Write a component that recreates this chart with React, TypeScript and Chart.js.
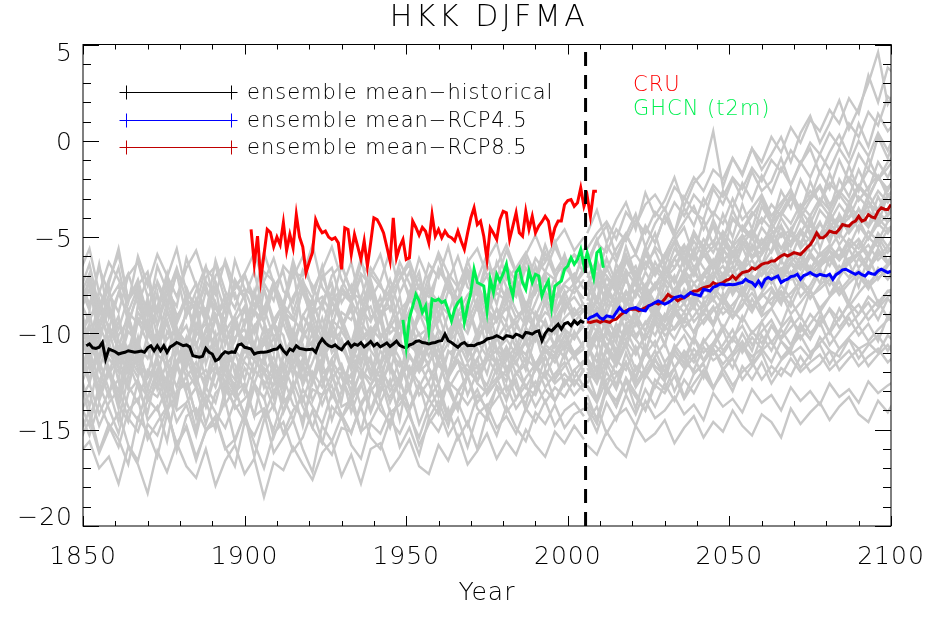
import React, { useEffect, useRef } from 'react';
import { Chart, registerables } from 'chart.js';

Chart.register(...registerables);

const FONT_FAMILY = '"DejaVu Sans", "Liberation Sans", sans-serif';
const FONT_WEIGHT = 200;

// ---------- axes ----------
const xTickValues = [1850, 1900, 1950, 2000, 2050, 2100];
const yTickValues = [5, 0, -5, -10, -15, -20];
const xMinorStep = 10;
const yMinorStep = 1;
const splitYear = 2005.5;

// ---------- ensemble means / observations (yearly) ----------
const historicalStartYear = 1851;
const historicalMean = [
  -10.64, -10.55, -10.75, -10.78, -10.72, -10.47, -11.33, -10.81, -10.88, -10.95,
  -11.07, -11.02, -10.98, -10.9, -10.94, -10.98, -10.95, -10.92, -10.98, -10.75,
  -10.64, -10.9, -10.64, -10.9, -10.64, -10.98, -10.7, -10.6, -10.47, -10.55,
  -10.64, -10.6, -10.7, -11.16, -11.2, -11.24, -11.19, -10.78, -10.98, -11.07,
  -11.42, -11.33, -11.1, -10.95, -11.02, -10.96, -10.98, -10.6, -10.55, -10.72,
  -10.76, -10.81, -11.07, -11.0, -10.98, -10.98, -10.95, -10.9, -10.83, -10.81,
  -10.64, -10.9, -11.07, -10.81, -10.9, -10.64, -10.78, -10.81, -10.85, -10.83,
  -10.81, -10.98, -10.55, -10.29, -10.5, -10.64, -10.7, -10.6, -10.75, -10.85,
  -10.6, -10.45, -10.7, -10.55, -10.62, -10.48, -10.7, -10.58, -10.42, -10.65,
  -10.52, -10.7, -10.6, -10.5, -10.68, -10.55, -10.4, -10.62, -10.7, -10.75,
  -10.6, -10.55, -10.42, -10.38, -10.47, -10.5, -10.55, -10.5, -10.47, -10.4,
  -10.38, -10.04, -10.38, -10.47, -10.6, -10.72, -10.55, -10.47, -10.64, -10.62,
  -10.64, -10.55, -10.5, -10.43, -10.29, -10.25, -10.21, -10.12, -10.2, -10.29,
  -10.12, -10.15, -10.21, -10.04, -10.1, -10.21, -9.95, -9.98, -10.04, -9.92,
  -9.87, -10.38, -10.0, -9.78, -9.87, -9.7, -9.52, -9.78, -9.5, -9.43,
  -9.6, -9.35, -9.52, -9.35, -9.45,
];

const cruStartYear = 1902;
const cruObs = [
  -4.6, -6.4, -4.95, -7.2, -5.9, -4.6, -4.76, -5.5, -5.0, -5.4,
  -4.25, -5.7, -4.86, -5.55, -3.83, -5.0, -5.5, -6.85, -6.3, -5.8,
  -4.09, -4.5, -4.78, -4.69, -5.0, -5.12, -5.03, -5.3, -6.67, -4.52,
  -4.6, -5.9, -4.86, -5.5, -6.16, -5.2, -6.5, -5.3, -4.0, -4.09,
  -4.4, -4.78, -5.5, -6.24, -4.0, -6.07, -5.5, -5.12, -6.16, -6.07,
  -4.17, -4.5, -4.9, -4.5, -4.7, -5.3, -3.83, -4.95, -4.6, -5.03,
  -4.69, -4.95, -5.03, -5.2, -4.69, -5.2, -5.64, -4.78, -4.0, -3.48,
  -4.35, -4.17, -4.95, -6.16, -4.52, -4.8, -5.12, -4.09, -3.66, -3.74,
  -5.12, -4.43, -3.74, -4.78, -4.95, -3.66, -4.6, -3.92, -4.78, -4.43,
  -4.2, -3.92, -4.17, -5.2, -4.52, -4.17, -4.17, -3.31, -3.1, -3.05,
  -3.4, -3.22, -2.45, -3.4, -2.88, -3.92, -2.62, -2.62,
];

const ghcnStartYear = 1949;
const ghcnObs = [
  -9.3, -10.7, -9.2, -8.6, -7.97, -8.3, -8.91, -8.57, -9.87, -8.22,
  -8.31, -8.22, -8.4, -8.31, -8.8, -9.35, -8.74, -8.4, -8.22, -9.43,
  -8.6, -7.88, -6.67, -7.36, -7.45, -7.54, -8.83, -7.19, -7.88, -6.93,
  -7.28, -6.9, -6.41, -7.45, -8.05, -6.84, -6.59, -7.36, -7.71, -6.76,
  -7.36, -6.93, -7.02, -8.05, -7.6, -7.28, -8.66, -7.54, -7.4, -7.28,
  -6.67, -6.5, -6.07, -6.41, -6.16, -5.64, -6.5, -5.81, -6.41, -7.1,
  -5.81, -5.64, -6.59,
];

const rcpStartYear = 2006;
const rcp45Mean = [
  -9.3, -9.17, -9.1, -9.0, -9.2, -9.26, -9.09, -9.12, -9.17, -8.91,
  -8.66, -8.85, -8.91, -8.74, -8.7, -8.66, -8.74, -8.8, -8.83, -8.57,
  -8.5, -8.4, -8.31, -8.4, -8.48, -8.4, -8.3, -8.14, -8.1, -8.05,
  -8.14, -8.0, -7.88, -7.97, -8.0, -8.05, -7.71, -7.75, -7.8, -7.6,
  -7.54, -7.45, -7.45, -7.48, -7.45, -7.47, -7.45, -7.4, -7.36, -7.19,
  -7.3, -7.36, -7.54, -7.28, -7.54, -7.2, -7.1, -7.19, -7.1, -7.02,
  -7.36, -7.25, -7.19, -7.05, -7.02, -6.93, -7.19, -7.0, -6.93, -6.84,
  -6.95, -7.02, -6.93, -6.98, -7.02, -6.93, -7.19, -6.95, -6.84, -6.7,
  -6.67, -6.76, -6.85, -6.93, -6.84, -6.95, -7.02, -6.84, -6.9, -6.93,
  -6.76, -6.67, -6.75, -6.84, -6.76,
];
const rcp85Mean = [
  -9.4, -9.43, -9.38, -9.35, -9.43, -9.35, -9.38, -9.43, -9.3, -9.26,
  -9.09, -8.95, -8.83, -8.74, -8.74, -8.74, -8.83, -8.75, -8.66, -8.57,
  -8.5, -8.4, -8.48, -8.4, -8.22, -7.97, -8.1, -8.14, -8.31, -8.2,
  -8.14, -8.05, -7.9, -7.8, -7.8, -7.7, -7.62, -7.58, -7.54, -7.36,
  -7.45, -7.42, -7.36, -7.25, -7.19, -7.02, -7.19, -7.0, -6.84, -6.8,
  -6.76, -6.59, -6.67, -6.55, -6.41, -6.35, -6.33, -6.24, -6.24, -6.1,
  -5.98, -5.9, -5.98, -5.9, -5.81, -5.85, -5.9, -5.73, -5.55, -5.4,
  -5.12, -4.78, -5.03, -5.03, -4.9, -4.69, -4.75, -4.78, -4.6, -4.35,
  -4.4, -4.43, -4.25, -4.17, -3.92, -4.17, -4.1, -3.83, -3.95, -4.0,
  -3.66, -3.48, -3.55, -3.57, -3.31,
];

// ---------- individual model runs (grey), sampled every 3 years ----------
const histRunStartYear = 1849;
const histRunEndYear = 2005;
const runStepYears = 3;
const histRuns: number[][] = [
  [-8.1,-6.9,-9.0,-7.4,-5.6,-8.3,-7.2,-9.1,-6.5,-7.8,-8.6,-6.1,-7.5,-9.3,-7.0,-6.4,-8.2,-7.7,-9.0,-6.8,-7.3,-8.5,-6.2,-7.9,-8.8,-7.1,-6.6,-8.4,-7.5,-9.2,-6.9,-7.6,-8.1,-6.3,-7.4,-8.7,-7.0,-6.0,-7.8,-8.3,-6.7,-7.2,-5.9,-7.7,-6.5,-8.0,-6.2,-7.1,-5.4,-6.8,-6.0,-7.3,-5.6],
  [-9.4,-10.6,-8.2,-9.8,-7.9,-9.1,-10.7,-8.6,-9.5,-7.6,-10.1,-9.0,-8.4,-10.9,-9.3,-8.0,-9.7,-10.3,-8.8,-7.7,-9.6,-8.5,-10.4,-9.1,-8.2,-9.9,-7.8,-9.2,-10.5,-8.7,-9.4,-8.1,-10.0,-9.5,-7.9,-8.9,-10.2,-8.4,-9.0,-7.5,-9.7,-8.6,-8.0,-9.3,-7.7,-8.8,-9.6,-7.4,-8.5,-7.1,-8.9,-7.6,-8.2],
  [-10.2,-8.9,-11.4,-9.6,-10.8,-12.0,-9.3,-10.5,-11.2,-8.8,-10.0,-11.7,-9.9,-10.6,-9.1,-11.3,-10.4,-8.7,-10.9,-11.6,-9.5,-10.1,-12.2,-10.3,-9.2,-11.0,-9.8,-10.7,-11.5,-9.4,-10.2,-8.9,-11.1,-10.0,-9.6,-11.8,-10.4,-9.0,-10.6,-9.3,-11.2,-9.9,-8.6,-10.3,-9.5,-10.8,-9.1,-9.8,-8.4,-10.0,-9.2,-8.7,-9.5],
  [-11.3,-12.5,-10.4,-11.9,-13.0,-10.8,-11.6,-12.2,-10.1,-11.4,-12.8,-11.0,-10.5,-12.4,-11.7,-13.2,-10.9,-11.5,-12.1,-10.2,-11.8,-12.9,-11.1,-10.6,-12.6,-11.3,-10.0,-11.9,-12.3,-10.7,-11.5,-13.1,-11.2,-10.4,-12.0,-11.6,-10.3,-12.7,-11.0,-10.8,-12.2,-11.4,-10.1,-11.7,-12.5,-10.6,-11.1,-10.0,-11.8,-10.5,-11.3,-9.9,-10.8],
  [-12.4,-11.1,-13.5,-12.0,-13.9,-11.5,-12.8,-14.1,-11.9,-12.5,-13.3,-11.2,-12.7,-13.8,-12.1,-11.4,-13.0,-12.6,-14.3,-11.8,-12.3,-13.6,-12.9,-11.3,-12.2,-13.7,-12.4,-11.6,-13.1,-12.0,-14.0,-12.5,-11.7,-13.4,-12.8,-11.5,-12.6,-13.9,-12.2,-11.4,-13.2,-12.0,-12.7,-11.3,-13.0,-12.1,-11.6,-12.9,-11.2,-12.4,-11.0,-12.3,-11.5],
  [-13.6,-14.8,-12.7,-13.9,-15.2,-13.1,-12.4,-14.5,-13.8,-15.6,-13.0,-12.6,-14.2,-13.5,-15.0,-12.9,-13.7,-14.6,-12.8,-13.3,-15.4,-14.0,-12.5,-13.8,-14.9,-13.2,-12.7,-14.4,-13.6,-15.1,-13.0,-12.3,-14.1,-13.7,-12.8,-14.7,-13.4,-12.6,-14.3,-13.1,-12.2,-13.9,-14.5,-12.7,-13.3,-12.4,-14.0,-12.9,-12.1,-13.5,-12.6,-11.9,-12.8],
  [-16.2,-15.6,-17.0,-16.4,-17.8,-15.9,-16.8,-18.3,-16.1,-17.2,-15.7,-16.9,-17.5,-16.0,-17.9,-16.6,-15.8,-17.3,-16.5,-18.5,-16.7,-17.1,-15.9,-16.8,-17.6,-16.2,-15.6,-17.4,-16.3,-17.8,-16.0,-15.7,-17.1,-16.4,-15.5,-16.9,-17.3,-15.8,-16.6,-15.3,-16.8,-16.1,-15.2,-16.5,-15.6,-16.3,-15.0,-15.8,-16.4,-15.1,-15.7,-14.8,-15.5],
  [-14.1,-15.3,-13.6,-14.8,-15.9,-14.0,-13.4,-15.5,-14.6,-13.8,-16.1,-14.3,-13.9,-15.0,-14.7,-13.5,-15.6,-14.2,-16.4,-14.5,-13.7,-15.2,-14.0,-13.3,-14.9,-15.7,-13.8,-14.4,-13.2,-15.1,-14.6,-13.6,-14.9,-13.1,-14.3,-15.4,-13.9,-13.0,-14.5,-13.6,-14.8,-13.2,-13.9,-12.8,-14.1,-13.4,-12.7,-13.8,-12.9,-13.5,-12.4,-13.2,-12.6],
  [-9.0,-7.3,-10.5,-8.4,-11.2,-9.6,-7.8,-10.1,-8.7,-6.9,-9.8,-11.0,-8.2,-9.4,-7.5,-10.6,-9.1,-8.0,-10.9,-7.7,-9.3,-8.5,-6.6,-9.9,-10.7,-8.3,-7.4,-9.5,-8.8,-10.3,-7.2,-9.0,-8.1,-10.4,-7.9,-6.8,-9.2,-8.6,-7.0,-9.7,-8.3,-7.6,-9.1,-6.9,-8.4,-7.3,-9.0,-6.5,-7.8,-8.7,-6.2,-7.5,-6.8],
  [-10.8,-9.5,-11.9,-10.2,-9.1,-11.4,-12.3,-10.0,-10.9,-9.4,-11.7,-10.5,-12.1,-9.8,-10.6,-11.5,-9.3,-10.8,-12.0,-10.4,-9.6,-11.2,-10.1,-12.4,-10.7,-9.2,-11.0,-10.3,-11.8,-9.7,-10.9,-11.6,-9.5,-10.2,-12.2,-10.6,-9.9,-11.3,-10.0,-9.4,-11.1,-10.5,-9.1,-10.8,-11.4,-9.6,-10.3,-9.0,-10.6,-9.8,-10.9,-9.3,-9.7],
  [-12.0,-13.8,-11.4,-12.9,-14.6,-12.2,-11.0,-13.5,-12.6,-14.2,-11.7,-13.1,-15.0,-12.4,-11.3,-13.7,-12.8,-14.4,-11.9,-12.5,-13.9,-11.6,-12.9,-14.8,-12.3,-11.5,-13.3,-12.0,-14.1,-12.7,-11.2,-13.6,-12.4,-14.5,-11.8,-12.6,-13.4,-11.4,-12.9,-14.0,-12.1,-11.3,-13.2,-12.5,-11.0,-12.8,-13.7,-11.6,-12.3,-11.1,-12.7,-11.9,-11.4],
  [-7.5,-8.8,-6.4,-9.2,-7.9,-6.9,-8.5,-7.1,-9.6,-8.0,-6.6,-8.3,-7.4,-9.0,-6.2,-7.8,-8.7,-7.0,-8.1,-9.4,-7.6,-6.8,-8.9,-7.3,-8.2,-6.5,-9.1,-7.7,-8.4,-6.9,-7.5,-9.3,-8.0,-7.2,-6.4,-8.6,-7.8,-9.0,-7.1,-8.3,-6.7,-7.9,-8.5,-6.3,-7.6,-8.1,-6.6,-7.4,-5.8,-7.0,-6.4,-5.9,-6.9],
  [-11.0,-12.6,-10.3,-11.8,-13.4,-11.2,-12.0,-10.6,-12.9,-11.5,-13.7,-10.8,-11.9,-12.5,-10.4,-12.2,-13.1,-11.3,-10.7,-12.8,-11.6,-13.3,-10.9,-11.7,-12.4,-10.5,-12.1,-13.5,-11.1,-12.3,-10.2,-11.9,-12.7,-11.4,-13.0,-10.6,-11.8,-12.6,-10.9,-11.5,-12.3,-10.4,-11.2,-12.1,-10.7,-11.6,-10.3,-11.9,-10.8,-11.3,-10.1,-11.0,-10.5],
  [-15.6,-14.5,-16.2,-15.0,-14.1,-15.8,-16.6,-14.7,-15.3,-13.9,-15.9,-14.8,-16.4,-15.1,-14.4,-16.0,-15.5,-14.2,-15.7,-17.0,-15.2,-14.6,-16.1,-15.4,-14.0,-15.6,-16.3,-14.9,-15.1,-13.8,-15.4,-16.0,-14.5,-15.2,-14.1,-15.8,-14.7,-13.9,-15.3,-14.4,-15.9,-14.2,-13.7,-14.9,-14.3,-15.2,-13.9,-14.6,-13.5,-14.8,-14.0,-13.6,-14.3],
  [-6.8,-5.6,-7.9,-6.3,-7.2,-8.4,-6.0,-7.5,-5.9,-7.0,-8.1,-6.6,-5.7,-7.3,-8.0,-6.2,-7.6,-6.9,-5.8,-7.4,-8.3,-6.5,-7.1,-6.0,-7.8,-6.7,-5.5,-7.2,-8.2,-6.4,-7.0,-5.9,-7.7,-6.8,-8.0,-6.1,-7.3,-5.8,-6.9,-7.6,-6.3,-5.6,-7.0,-6.5,-5.4,-6.8,-5.9,-4.9,-6.2,-5.3,-4.6,-5.7,-5.0],
  [-9.6,-11.8,-8.5,-10.4,-12.5,-9.1,-10.9,-8.2,-11.3,-12.7,-9.8,-10.5,-8.7,-11.6,-10.0,-12.9,-9.4,-8.6,-11.1,-10.2,-12.3,-9.0,-10.7,-11.9,-8.9,-10.3,-12.1,-9.7,-8.4,-11.4,-10.6,-9.2,-12.0,-10.1,-8.8,-11.2,-9.5,-10.8,-12.4,-9.3,-10.0,-8.5,-11.0,-9.9,-8.3,-10.4,-11.5,-8.9,-9.6,-10.7,-8.1,-9.4,-8.8],
  [-10.1,-9.2,-8.6,-10.5,-9.4,-11.0,-8.9,-9.7,-10.3,-8.4,-9.9,-10.8,-9.0,-8.7,-10.2,-9.5,-11.1,-9.3,-8.8,-10.0,-9.6,-8.5,-10.6,-9.1,-9.8,-10.4,-8.3,-9.5,-10.9,-9.0,-8.6,-10.1,-9.7,-8.8,-10.3,-9.2,-8.5,-9.9,-10.5,-8.9,-9.4,-8.2,-10.0,-9.3,-8.7,-9.6,-8.4,-9.1,-8.0,-9.5,-8.6,-8.1,-8.9],
  [-12.2,-11.3,-12.9,-11.0,-11.8,-12.6,-10.9,-12.3,-11.5,-13.0,-11.7,-10.8,-12.4,-11.9,-12.8,-11.2,-11.6,-13.1,-11.4,-12.0,-12.7,-11.1,-11.8,-12.5,-10.7,-12.1,-11.6,-12.9,-11.3,-11.9,-12.4,-10.9,-11.7,-12.6,-11.2,-12.0,-11.5,-10.8,-12.3,-11.4,-11.9,-12.5,-11.0,-11.6,-10.7,-12.1,-11.3,-11.8,-10.9,-11.5,-10.6,-11.2,-10.8],
  [-8.3,-9.4,-7.8,-8.9,-9.8,-8.1,-7.4,-9.1,-8.6,-7.7,-9.5,-8.2,-8.8,-7.5,-9.2,-8.4,-7.9,-9.6,-8.0,-8.7,-7.3,-8.9,-9.3,-7.8,-8.5,-8.1,-9.0,-7.6,-8.3,-9.4,-7.9,-8.6,-7.2,-8.8,-8.2,-9.1,-7.7,-8.4,-7.5,-8.9,-8.0,-7.4,-8.6,-7.9,-8.3,-7.1,-8.5,-7.6,-7.2,-8.1,-7.4,-6.9,-7.7],
  [-13.5,-12.6,-14.2,-13.0,-12.4,-13.8,-14.5,-12.9,-13.3,-12.2,-14.0,-13.6,-12.8,-14.7,-13.1,-12.5,-13.9,-13.4,-12.7,-14.3,-13.0,-12.3,-13.7,-14.4,-12.9,-13.2,-12.1,-13.8,-13.5,-12.6,-14.1,-12.8,-13.3,-12.4,-13.9,-12.7,-13.4,-14.2,-12.5,-13.0,-12.2,-13.6,-12.9,-12.3,-13.5,-12.0,-12.8,-13.2,-11.9,-12.6,-12.1,-12.7,-11.8],
  [-7.2,-8.5,-6.6,-7.9,-8.9,-7.0,-6.3,-8.1,-7.4,-8.8,-6.8,-7.6,-9.0,-7.1,-6.5,-8.3,-7.7,-6.9,-8.6,-7.3,-6.1,-7.8,-8.4,-6.7,-7.5,-8.7,-7.0,-6.4,-7.9,-8.2,-6.6,-7.4,-8.8,-7.1,-6.2,-7.7,-8.1,-6.8,-7.3,-6.0,-7.6,-8.0,-6.5,-7.2,-5.7,-6.9,-7.5,-6.1,-6.8,-5.5,-6.6,-7.1,-6.0],
  [-8.9,-7.7,-9.8,-8.3,-7.5,-9.4,-8.0,-10.2,-8.6,-7.3,-9.1,-8.4,-9.9,-7.8,-8.7,-9.5,-7.4,-8.2,-10.0,-8.8,-7.6,-9.3,-8.1,-7.2,-9.0,-8.5,-9.7,-7.9,-8.4,-7.1,-9.2,-8.6,-7.7,-9.6,-8.3,-7.5,-8.9,-9.4,-7.8,-8.2,-7.0,-8.8,-9.1,-7.6,-8.0,-7.3,-8.7,-7.9,-6.9,-8.4,-7.5,-7.9,-7.2],
  [-9.0,-10.3,-8.6,-9.7,-10.8,-8.9,-9.5,-8.2,-10.1,-9.3,-11.0,-8.7,-9.6,-10.4,-8.4,-9.9,-9.1,-10.6,-8.8,-9.4,-10.9,-8.5,-9.2,-10.0,-8.3,-9.8,-10.5,-8.9,-9.3,-8.1,-10.2,-9.0,-8.6,-9.7,-10.4,-8.8,-9.5,-8.2,-9.9,-9.1,-8.5,-10.0,-8.7,-9.4,-8.0,-9.2,-8.6,-9.8,-8.3,-8.9,-7.8,-9.0,-8.4],
  [-10.0,-11.2,-9.6,-10.7,-11.6,-9.9,-10.5,-9.3,-11.1,-10.3,-9.7,-11.4,-10.1,-9.5,-10.9,-11.8,-10.2,-9.8,-11.0,-10.6,-9.4,-10.8,-11.5,-10.0,-9.6,-11.3,-10.4,-9.9,-10.7,-11.7,-9.7,-10.3,-11.1,-9.5,-10.6,-10.0,-11.2,-9.8,-10.4,-9.2,-10.9,-10.1,-9.6,-11.0,-9.9,-9.4,-10.5,-9.7,-10.2,-9.1,-9.8,-10.3,-9.3],
  [-10.5,-12.4,-11.1,-9.8,-11.7,-12.9,-10.6,-11.3,-9.9,-12.1,-11.5,-10.2,-12.6,-11.0,-10.4,-11.9,-12.7,-10.8,-11.4,-9.7,-11.8,-12.3,-10.7,-11.2,-10.0,-12.5,-11.3,-10.5,-11.9,-10.9,-12.2,-10.3,-11.6,-12.8,-10.6,-11.1,-9.9,-11.7,-12.0,-10.4,-11.5,-10.8,-12.1,-10.2,-11.3,-10.7,-11.9,-10.1,-11.0,-10.5,-9.8,-11.2,-10.4],
  [-12.8,-11.6,-13.2,-12.1,-11.3,-12.7,-13.6,-11.9,-12.4,-13.0,-11.5,-12.9,-12.2,-13.8,-11.7,-12.5,-13.3,-11.8,-12.6,-11.2,-13.1,-12.4,-11.6,-13.5,-12.0,-12.8,-11.4,-12.3,-13.4,-11.9,-12.7,-11.5,-13.0,-12.2,-11.7,-13.2,-12.5,-11.3,-12.9,-12.0,-11.6,-12.6,-13.1,-11.8,-12.2,-11.4,-12.8,-11.9,-11.2,-12.4,-11.7,-11.1,-12.0],
  [-14.2,-13.1,-14.8,-13.6,-12.9,-14.4,-15.1,-13.4,-14.0,-12.8,-14.6,-13.7,-15.3,-13.2,-14.1,-14.9,-13.5,-12.7,-14.3,-13.9,-15.0,-13.3,-14.5,-12.9,-13.8,-14.7,-13.1,-14.2,-15.2,-13.6,-12.8,-14.0,-14.6,-13.3,-13.9,-12.6,-14.4,-13.5,-14.8,-13.0,-13.7,-12.9,-14.1,-13.4,-12.7,-13.9,-13.2,-12.5,-13.6,-12.8,-13.3,-12.4,-13.0],
  [-9.5,-10.7,-10.1,-8.8,-10.4,-11.1,-9.2,-9.9,-10.6,-8.9,-10.3,-9.6,-11.2,-9.8,-9.0,-10.5,-9.4,-10.9,-9.7,-8.7,-10.2,-9.5,-10.8,-9.1,-10.0,-11.0,-9.3,-9.8,-8.6,-10.4,-9.9,-9.2,-10.7,-9.5,-8.9,-10.1,-9.7,-10.6,-9.0,-9.6,-8.5,-10.3,-9.4,-8.8,-9.9,-9.2,-8.6,-9.7,-8.9,-9.3,-8.4,-9.1,-8.7],
  [-11.9,-10.9,-12.5,-11.3,-12.0,-10.7,-11.8,-12.8,-11.1,-11.6,-10.8,-12.3,-11.5,-12.9,-11.0,-11.7,-12.4,-10.6,-11.4,-12.1,-11.2,-12.7,-11.6,-10.9,-12.2,-11.3,-10.5,-11.9,-12.6,-11.0,-11.5,-12.3,-10.8,-11.7,-11.1,-12.0,-10.7,-11.4,-12.2,-11.0,-10.6,-11.8,-11.3,-10.9,-12.0,-11.1,-10.5,-11.6,-10.8,-11.2,-10.4,-11.0,-10.6],
  [-7.8,-6.4,-8.7,-7.2,-5.9,-8.3,-7.5,-6.8,-9.0,-7.1,-5.6,-7.9,-8.5,-6.6,-7.3,-8.9,-6.2,-7.7,-8.1,-5.8,-7.4,-8.6,-6.9,-7.0,-5.4,-7.6,-8.4,-6.5,-7.8,-6.1,-8.2,-7.3,-5.7,-7.9,-6.8,-8.3,-6.4,-7.1,-5.5,-7.5,-6.9,-8.0,-6.2,-5.3,-7.2,-6.6,-5.8,-7.0,-6.3,-5.2,-6.7,-5.9,-6.4],
  [-8.2,-10.9,-9.0,-7.6,-10.4,-11.6,-8.5,-9.8,-7.9,-11.2,-9.3,-8.0,-10.7,-9.1,-11.4,-8.3,-9.6,-10.8,-7.8,-9.4,-11.0,-8.6,-10.1,-7.5,-9.7,-10.9,-8.4,-9.2,-11.3,-8.9,-7.7,-10.3,-9.5,-8.1,-10.6,-9.0,-7.4,-9.9,-10.5,-8.2,-9.1,-7.6,-10.0,-8.7,-9.4,-7.3,-9.6,-8.4,-7.1,-9.0,-8.0,-7.4,-8.6],
  [-12.6,-10.4,-11.8,-13.3,-10.9,-12.1,-10.2,-12.9,-11.4,-13.5,-10.7,-11.9,-12.8,-10.3,-11.6,-13.1,-11.0,-12.4,-10.5,-12.0,-13.4,-11.2,-10.6,-12.7,-11.5,-10.1,-12.3,-11.7,-13.0,-10.8,-11.9,-12.6,-10.4,-11.3,-12.8,-10.9,-11.6,-10.2,-12.2,-11.1,-10.5,-12.5,-11.4,-10.0,-11.8,-11.2,-10.3,-11.7,-10.6,-11.0,-10.1,-11.3,-10.4],
  [-12.4,-14.3,-13.1,-11.8,-13.7,-14.6,-12.5,-13.3,-11.9,-14.0,-13.2,-12.2,-14.4,-12.8,-13.6,-11.7,-13.0,-14.2,-12.6,-13.4,-12.0,-14.1,-12.9,-11.6,-13.5,-12.3,-14.5,-13.0,-12.1,-13.8,-12.7,-11.9,-13.6,-12.4,-14.0,-12.8,-11.8,-13.3,-12.6,-13.9,-12.2,-11.7,-13.1,-12.5,-11.9,-13.4,-12.3,-11.6,-12.8,-12.1,-11.5,-12.7,-11.9],
  [-8.8,-7.1,-9.5,-8.0,-6.6,-8.9,-7.6,-9.7,-7.3,-8.4,-6.9,-9.1,-7.8,-6.5,-8.6,-9.3,-7.2,-8.1,-6.8,-9.0,-7.5,-8.7,-6.4,-7.9,-9.2,-7.0,-8.3,-7.7,-6.3,-8.5,-7.4,-9.4,-7.9,-6.7,-8.2,-7.1,-8.8,-6.6,-7.6,-8.4,-6.2,-7.8,-7.0,-8.5,-6.5,-7.3,-6.1,-7.9,-6.8,-7.2,-5.9,-7.5,-6.6],
  [-11.4,-9.7,-10.6,-12.2,-10.1,-9.3,-11.5,-10.8,-12.4,-9.9,-10.7,-11.8,-9.5,-10.9,-11.6,-10.0,-12.1,-10.5,-9.6,-11.3,-10.2,-12.0,-9.8,-11.1,-10.4,-11.9,-9.4,-10.8,-11.5,-10.3,-9.7,-11.7,-10.6,-12.3,-10.0,-11.0,-9.6,-11.4,-10.5,-9.9,-11.2,-10.1,-9.5,-10.9,-10.3,-11.1,-9.7,-10.4,-9.3,-10.7,-9.8,-10.2,-9.6],
  [-15.2,-14.0,-16.1,-14.7,-15.5,-16.8,-14.4,-15.1,-16.4,-14.2,-15.7,-14.9,-16.6,-15.0,-14.3,-15.9,-16.9,-14.6,-15.3,-14.1,-16.2,-15.4,-14.5,-16.0,-17.2,-14.8,-15.6,-14.3,-15.8,-16.5,-14.7,-15.2,-14.0,-15.9,-14.9,-16.3,-14.4,-15.1,-13.9,-15.5,-14.6,-16.0,-14.2,-15.3,-13.8,-14.9,-15.6,-14.1,-14.7,-13.7,-14.9,-14.2,-13.9],
];

const futureRunStartYear = 2006;
const futureRuns: number[][] = [
  [-4.8,-3.6,-5.3,-4.1,-3.2,-4.6,-2.7,-3.9,-3.1,-1.9,-3.4,-2.2,-1.6,0.5,-2.4,-0.9,-1.8,-0.4,-1.5,-0.7,0.2,-1.1,0.4,1.3,-0.1,0.9,2.1,0.6,1.7,3.0,4.6,1.9,2.8],
  [-6.6,-5.2,-4.4,-6.0,-4.9,-3.8,-5.5,-4.3,-3.5,-4.8,-2.9,-3.7,-4.1,-2.5,-3.3,-2.0,-3.0,-1.6,-2.6,-2.1,-0.9,-2.3,-1.2,-0.4,-1.7,-0.6,0.3,-0.8,0.9,-0.3,1.4,0.5,1.1],
  [-8.1,-7.0,-8.6,-6.4,-7.3,-7.9,-5.8,-6.9,-6.1,-5.3,-6.5,-4.9,-5.7,-4.4,-5.9,-4.0,-4.6,-5.1,-3.4,-4.3,-3.7,-2.8,-4.0,-3.1,-2.4,-3.6,-2.0,-2.9,-1.5,-2.6,-1.1,-1.9,-0.8],
  [-10.3,-8.8,-9.6,-10.5,-8.2,-9.0,-7.6,-8.9,-7.9,-7.0,-8.4,-6.6,-7.7,-7.2,-6.0,-6.9,-5.5,-6.7,-5.9,-5.1,-6.3,-4.6,-5.6,-5.0,-4.2,-5.3,-3.8,-4.7,-3.5,-4.4,-2.9,-3.9,-3.2],
  [-11.6,-12.4,-10.7,-11.3,-9.8,-10.9,-10.2,-9.4,-10.6,-8.9,-9.7,-9.1,-8.4,-9.5,-8.1,-8.8,-7.6,-8.6,-7.9,-7.1,-8.3,-6.8,-7.5,-6.5,-7.4,-6.1,-6.9,-5.6,-6.6,-5.9,-5.2,-6.3,-5.5],
  [-13.8,-14.7,-12.9,-13.5,-12.4,-13.9,-12.1,-12.8,-11.6,-13.0,-11.9,-11.2,-12.3,-10.8,-11.6,-11.0,-10.4,-11.5,-10.1,-10.9,-9.8,-10.6,-9.5,-10.3,-9.1,-9.9,-8.7,-9.6,-9.0,-8.4,-9.3,-8.2,-8.8],
  [-15.8,-16.3,-15.1,-15.9,-16.4,-14.8,-15.6,-15.2,-14.5,-15.7,-14.9,-14.3,-15.4,-14.6,-15.1,-14.0,-14.8,-15.3,-14.2,-14.6,-15.4,-13.9,-14.7,-14.1,-13.6,-14.5,-13.8,-13.3,-14.2,-14.6,-13.5,-14.1,-13.2],
  [-9.0,-8.2,-9.6,-8.6,-7.8,-8.9,-8.1,-7.4,-8.5,-7.7,-7.1,-8.2,-6.9,-7.6,-7.3,-6.5,-7.8,-6.8,-6.3,-7.4,-6.6,-7.0,-6.0,-6.9,-6.2,-5.7,-6.8,-6.1,-5.9,-6.6,-5.6,-6.4,-6.0],
  [-12.3,-11.0,-12.8,-11.4,-11.9,-10.7,-12.1,-11.2,-10.5,-11.8,-10.9,-11.5,-10.3,-11.1,-10.6,-9.8,-11.0,-10.2,-10.8,-9.6,-10.4,-10.9,-9.7,-10.3,-9.4,-10.6,-9.9,-9.2,-10.1,-9.5,-10.4,-9.1,-9.8],
  [-6.4,-5.1,-6.7,-5.6,-4.8,-5.9,-4.5,-5.3,-3.9,-5.0,-4.2,-3.4,-4.6,-3.7,-4.3,-3.0,-4.1,-3.5,-2.8,-3.9,-3.2,-2.6,-3.6,-2.9,-2.3,-3.3,-2.7,-2.0,-3.1,-2.4,-1.8,-2.9,-2.2],
  [-7.3,-8.2,-6.6,-7.6,-6.0,-7.1,-5.5,-6.8,-5.9,-4.9,-6.2,-4.7,-5.6,-4.1,-5.2,-3.6,-4.7,-3.9,-3.1,-4.3,-2.6,-3.5,-2.0,-3.0,-1.6,-2.5,-1.0,-2.1,-0.7,-1.5,0.2,-0.9,0.6],
  [-10.6,-11.5,-9.8,-10.9,-9.5,-10.3,-11.0,-9.2,-10.1,-9.7,-8.9,-10.0,-9.3,-8.6,-9.8,-8.8,-9.4,-8.2,-9.1,-8.7,-7.9,-9.0,-8.4,-7.7,-8.9,-8.1,-7.6,-8.6,-7.9,-7.3,-8.4,-7.8,-8.1],
  [-12.7,-13.4,-12.0,-12.9,-11.5,-12.6,-11.8,-10.9,-12.0,-10.6,-11.3,-10.2,-11.0,-10.5,-9.6,-10.4,-9.1,-10.0,-9.4,-8.7,-9.6,-8.3,-9.2,-7.8,-8.7,-8.1,-7.3,-8.4,-7.0,-7.7,-6.6,-7.2,-6.5],
  [-13.6,-14.4,-12.9,-13.8,-12.5,-13.3,-14.0,-12.7,-13.1,-12.2,-13.4,-12.6,-11.9,-12.8,-12.1,-13.0,-11.7,-12.4,-11.5,-12.6,-11.8,-12.2,-11.2,-12.0,-11.6,-10.9,-11.9,-11.3,-10.8,-11.7,-11.1,-10.6,-11.4],
  [-8.8,-7.4,-8.2,-7.0,-8.5,-6.8,-7.6,-6.3,-7.2,-6.6,-5.8,-6.9,-5.5,-6.4,-5.1,-6.0,-5.4,-4.7,-5.7,-4.3,-5.0,-4.6,-3.8,-4.9,-3.6,-4.2,-3.3,-4.0,-2.9,-3.5,-2.6,-3.2,-2.4],
  [-9.9,-10.8,-9.1,-10.2,-8.8,-9.6,-8.3,-9.3,-8.0,-8.9,-7.7,-8.5,-7.4,-8.2,-7.0,-7.9,-6.8,-7.5,-6.5,-7.3,-6.2,-7.0,-6.0,-6.7,-5.8,-6.5,-5.5,-6.3,-5.3,-6.1,-5.0,-5.8,-5.2],
  [-7.6,-6.5,-7.9,-6.9,-6.2,-7.3,-5.9,-6.6,-7.0,-5.6,-6.3,-5.2,-6.0,-5.5,-4.9,-5.8,-5.1,-4.6,-5.4,-4.8,-4.4,-5.3,-4.1,-4.7,-5.0,-3.9,-4.5,-4.0,-3.6,-4.4,-3.8,-4.2,-3.7],
  [-11.2,-10.1,-10.8,-9.5,-10.4,-9.0,-9.9,-8.6,-9.4,-8.8,-7.9,-8.7,-7.5,-8.3,-7.1,-7.8,-6.6,-7.4,-6.9,-6.1,-6.8,-5.7,-6.4,-5.3,-6.0,-5.6,-4.8,-5.5,-4.4,-5.1,-4.0,-4.6,-4.2],
  [-11.0,-9.9,-10.6,-11.4,-9.7,-10.3,-9.4,-10.1,-9.0,-9.8,-9.2,-8.6,-9.5,-8.8,-8.3,-9.1,-8.5,-7.9,-8.7,-8.2,-7.8,-8.6,-7.5,-8.1,-7.7,-7.2,-8.0,-7.4,-6.9,-7.6,-7.1,-6.8,-7.3],
  [-9.4,-8.3,-9.0,-7.7,-8.6,-7.2,-8.0,-7.5,-6.6,-7.4,-6.1,-6.9,-5.8,-6.5,-5.3,-6.0,-4.9,-5.7,-4.5,-5.2,-4.0,-4.8,-3.6,-4.3,-3.2,-3.9,-2.8,-3.5,-2.4,-3.0,-1.9,-2.6,-1.6],
  [-7.1,-6.2,-7.6,-6.8,-5.9,-7.2,-6.4,-5.7,-6.9,-6.1,-5.4,-6.6,-5.8,-5.2,-6.3,-5.5,-4.9,-6.0,-5.3,-4.6,-5.6,-4.9,-5.4,-4.3,-5.0,-4.5,-3.9,-4.8,-4.1,-3.6,-4.4,-3.8,-3.2],
  [-8.7,-9.6,-8.1,-8.9,-9.3,-7.8,-8.5,-7.4,-8.3,-7.9,-7.1,-8.0,-7.5,-6.8,-7.7,-6.9,-6.4,-7.3,-6.6,-6.1,-7.0,-6.3,-5.8,-6.7,-5.9,-5.4,-6.2,-5.6,-5.1,-5.9,-4.8,-5.5,-4.6],
  [-10.2,-9.3,-10.7,-9.8,-9.0,-10.1,-9.5,-8.7,-9.7,-9.1,-8.4,-9.4,-8.8,-8.2,-9.0,-8.5,-7.9,-8.7,-8.1,-7.6,-8.4,-7.9,-7.3,-8.2,-7.5,-7.0,-7.8,-7.2,-6.7,-7.4,-6.9,-6.4,-6.1],
  [-11.4,-12.3,-10.9,-11.7,-10.6,-11.9,-11.1,-10.4,-11.5,-10.8,-10.1,-11.2,-10.5,-9.8,-10.9,-10.2,-9.6,-10.6,-9.9,-9.3,-10.3,-9.7,-9.1,-10.0,-9.4,-8.8,-9.7,-9.0,-8.5,-9.3,-8.7,-8.1,-7.8],
  [-12.6,-11.7,-13.1,-12.2,-11.5,-12.8,-12.0,-11.3,-12.4,-11.8,-11.1,-12.1,-11.5,-10.8,-11.9,-11.2,-10.6,-11.6,-10.9,-10.4,-11.3,-10.7,-10.1,-11.0,-10.5,-9.9,-10.8,-10.2,-9.6,-10.4,-9.8,-9.3,-9.1],
  [-7.6,-8.4,-7.1,-7.9,-6.7,-7.5,-6.3,-7.0,-5.9,-6.6,-5.5,-6.2,-5.1,-5.8,-4.7,-5.4,-4.4,-5.0,-4.0,-4.6,-3.7,-4.3,-3.3,-3.9,-3.0,-3.6,-2.6,-3.2,-2.3,-2.9,-1.9,-2.5,-1.6],
  [-9.3,-9.9,-8.6,-8.2,-9.1,-7.9,-7.5,-8.4,-7.2,-7.8,-6.7,-7.4,-6.9,-6.2,-7.0,-5.8,-6.4,-5.5,-5.9,-5.1,-5.6,-4.7,-5.3,-4.4,-4.9,-4.0,-4.6,-3.6,-4.1,-3.2,-3.7,-2.8,-2.6],
  [-10.7,-9.8,-10.2,-11.0,-9.5,-9.1,-9.9,-8.7,-9.3,-8.4,-8.9,-8.0,-8.6,-7.6,-8.2,-7.3,-7.9,-7.0,-7.4,-6.6,-7.1,-6.3,-6.7,-5.9,-6.4,-5.5,-6.0,-5.1,-5.6,-4.7,-5.2,-4.2,-3.7],
  [-11.3,-12.0,-10.8,-11.5,-10.4,-11.1,-10.0,-10.7,-9.6,-10.3,-9.3,-9.9,-8.9,-9.6,-8.6,-9.2,-8.2,-8.9,-7.9,-8.5,-7.5,-8.2,-7.2,-7.8,-6.8,-7.5,-6.5,-7.1,-6.1,-6.8,-5.8,-6.4,-5.2],
  [-12.8,-13.6,-12.4,-12.0,-13.1,-11.7,-12.3,-11.4,-12.0,-11.1,-11.8,-10.8,-11.4,-10.5,-11.1,-10.3,-10.8,-9.9,-10.5,-9.6,-10.2,-9.3,-9.9,-9.0,-9.6,-8.7,-9.3,-8.4,-9.0,-8.1,-8.6,-7.8,-7.6],
  [-6.2,-5.3,-5.8,-4.6,-5.2,-4.1,-4.8,-3.7,-4.3,-3.2,-3.9,-2.8,-3.4,-2.3,-2.9,-1.9,-2.5,-1.4,-2.1,-1.0,-1.6,-0.5,-1.2,-0.1,-0.7,0.4,-0.3,0.9,0.2,1.5,0.8,2.3,1.8],
  [-5.6,-4.8,-4.2,-5.1,-3.7,-4.4,-3.3,-2.8,-3.6,-2.4,-3.0,-1.9,-2.6,-1.5,-2.0,-0.9,-1.7,-0.4,-1.1,0.2,-0.6,0.7,-0.1,1.1,0.5,1.6,0.9,2.2,1.4,3.4,2.0,3.8,3.3],
  [-8.4,-9.1,-7.8,-8.6,-8.0,-7.4,-8.3,-7.6,-7.1,-7.9,-7.3,-6.8,-7.6,-7.0,-6.5,-7.3,-6.7,-6.2,-7.0,-6.4,-6.9,-6.0,-6.6,-5.8,-6.5,-6.1,-5.6,-6.4,-5.9,-5.4,-6.2,-5.7,-5.5],
  [-11.8,-12.6,-11.3,-12.1,-11.6,-12.4,-11.0,-11.7,-12.2,-10.9,-11.5,-11.9,-10.7,-11.4,-11.0,-11.8,-10.6,-11.2,-10.8,-11.5,-10.4,-11.1,-10.7,-11.3,-10.2,-10.9,-11.2,-10.3,-10.8,-10.5,-11.0,-10.1,-10.6],
  [-14.6,-13.8,-15.2,-14.3,-13.9,-14.8,-13.5,-14.4,-14.0,-13.3,-14.2,-13.7,-14.5,-13.1,-13.8,-13.4,-14.1,-12.9,-13.6,-13.2,-14.0,-12.8,-13.5,-13.0,-13.7,-12.6,-13.3,-12.9,-13.6,-12.5,-13.1,-12.7,-12.4],
  [-7.4,-6.6,-7.0,-7.7,-6.3,-5.9,-6.7,-5.5,-6.1,-5.2,-5.8,-4.8,-5.5,-4.4,-5.0,-4.1,-4.6,-3.7,-4.3,-3.3,-3.9,-3.0,-3.5,-2.6,-3.2,-2.2,-2.8,-1.9,-2.4,-1.5,-2.0,-1.1,-0.6],
  [-9.5,-7.2,-10.1,-8.0,-6.9,-9.3,-7.5,-8.8,-6.4,-8.1,-6.9,-5.6,-7.8,-6.2,-7.4,-5.3,-6.8,-4.9,-6.5,-5.7,-4.4,-6.1,-4.8,-3.9,-5.6,-4.2,-5.0,-3.4,-4.7,-3.1,-4.3,-2.8,-3.5],
  [-10.4,-12.1,-9.6,-11.3,-10.0,-8.9,-11.0,-9.4,-10.6,-8.5,-9.8,-10.5,-8.3,-9.6,-7.9,-9.2,-8.6,-7.4,-9.0,-7.8,-8.5,-6.9,-8.1,-7.5,-6.6,-8.0,-7.1,-6.3,-7.6,-6.0,-7.2,-6.5,-5.9],
  [-6.8,-8.3,-6.1,-7.4,-5.5,-7.0,-5.9,-4.8,-6.5,-5.2,-4.5,-6.0,-4.1,-5.4,-3.8,-5.0,-3.3,-4.6,-2.9,-4.2,-3.4,-2.5,-3.8,-2.1,-3.3,-1.7,-2.9,-1.3,-2.6,-0.9,-2.0,-1.4,-0.7],
  [-12.0,-13.4,-11.5,-12.7,-11.0,-12.3,-10.6,-11.9,-12.5,-10.8,-11.6,-10.2,-11.4,-10.7,-9.8,-11.1,-10.0,-10.9,-9.4,-10.5,-9.7,-9.1,-10.3,-9.5,-8.8,-10.0,-9.2,-8.5,-9.6,-8.9,-8.3,-9.2,-8.2],
  [-8.3,-6.9,-7.7,-8.6,-7.1,-6.5,-7.8,-6.7,-7.3,-6.1,-7.0,-5.8,-6.6,-7.2,-5.6,-6.4,-5.2,-6.1,-5.7,-4.9,-6.0,-5.3,-4.7,-5.8,-5.0,-4.4,-5.4,-4.6,-4.1,-5.1,-4.3,-4.8,-4.0],
  [-10.6,-9.1,-9.8,-8.4,-10.0,-8.7,-7.9,-9.2,-7.4,-8.5,-6.8,-8.0,-7.1,-6.3,-7.6,-5.9,-6.9,-5.4,-6.5,-5.0,-6.0,-4.6,-5.5,-4.1,-5.0,-3.7,-4.6,-3.2,-4.1,-2.8,-3.6,-2.4,-2.1],
  [-13.2,-14.5,-12.7,-13.8,-12.3,-13.1,-14.0,-12.4,-12.9,-11.8,-13.3,-12.1,-11.6,-12.8,-11.9,-11.3,-12.4,-11.7,-11.0,-12.2,-11.4,-10.9,-11.8,-11.1,-10.6,-11.6,-10.8,-10.3,-11.3,-10.6,-10.1,-10.9,-10.2],
  [-9.8,-8.6,-9.2,-10.1,-8.4,-9.0,-7.9,-8.8,-9.3,-7.7,-8.5,-7.4,-8.2,-7.8,-6.9,-8.0,-7.2,-7.7,-6.6,-7.4,-6.8,-7.2,-6.3,-7.0,-6.5,-6.0,-6.9,-6.2,-5.8,-6.6,-6.0,-5.5,-6.1],
  [-6.0,-7.1,-5.4,-6.3,-4.9,-5.8,-4.4,-5.3,-3.9,-4.8,-3.5,-4.4,-3.0,-3.9,-2.6,-3.5,-2.2,-3.1,-1.8,-2.7,-1.4,-2.3,-1.1,-1.9,-0.7,-1.5,-0.4,-1.2,0.0,-0.8,0.4,-0.5,0.7],
  [-11.3,-10.2,-11.8,-9.9,-10.7,-9.4,-10.3,-9.0,-9.8,-8.6,-9.4,-8.2,-9.0,-7.8,-8.5,-7.5,-8.1,-7.1,-7.7,-6.8,-7.3,-6.4,-7.0,-6.0,-6.6,-5.7,-6.2,-5.3,-5.9,-5.0,-5.5,-4.6,-4.3],
  [-14.0,-15.1,-13.6,-14.5,-13.2,-14.2,-12.9,-13.8,-12.6,-13.5,-12.4,-13.1,-12.1,-12.9,-11.8,-12.7,-12.0,-11.5,-12.4,-11.7,-12.2,-11.3,-12.0,-11.5,-11.1,-11.9,-11.4,-10.9,-11.7,-11.2,-10.8,-11.5,-11.0],
  [-8.0,-9.2,-7.6,-8.4,-7.2,-8.1,-6.8,-7.7,-6.5,-7.3,-6.2,-7.0,-5.9,-6.7,-5.6,-6.4,-5.3,-6.1,-5.1,-5.8,-4.8,-5.5,-4.6,-5.2,-4.3,-5.0,-4.1,-4.7,-3.9,-4.5,-3.7,-4.2,-3.5],
];

// ---------- labels ----------
const chartTitle = 'HKK DJFMA';
const xAxisTitle = 'Year';
const legendItems = [
  { label: 'ensemble mean−historical', color: '#000000' },
  { label: 'ensemble mean−RCP4.5', color: '#0000ff' },
  { label: 'ensemble mean−RCP8.5', color: '#c00000' },
];
const obsLabels = [
  { label: 'CRU', color: '#ff0000' },
  { label: 'GHCN (t2m)', color: '#00f050' },
];

const GREY = '#c8c8c8';

function seriesPoints(start: number, step: number, values: number[], maxX?: number) {
  const pts = values.map((v, i) => ({ x: start + i * step, y: v }));
  return maxX === undefined ? pts : pts.filter((p) => p.x <= maxX);
}

function fmtY(v: number) {
  return v < 0 ? '−' + Math.abs(v) : String(v);
}

const idlPlugin = {
  id: 'idlFrame',
  beforeDraw(chart: any) {
    chart.ctx.letterSpacing = '1px';
  },
  afterDatasetsDraw(chart: any) {
    const { ctx, chartArea: a, scales } = chart;
    const xs = scales.x;
    const ys = scales.y;
    ctx.save();
    ctx.strokeStyle = '#000';
    ctx.lineWidth = 1;
    ctx.strokeRect(a.left, a.top, a.right - a.left, a.bottom - a.top);
    ctx.beginPath();
    const xMin = xTickValues[0];
    const xMax = xTickValues[xTickValues.length - 1];
    const majorX = xTickValues[1] - xTickValues[0];
    for (let yr = xMin; yr <= xMax; yr += xMinorStep) {
      const px = Math.round(xs.getPixelForValue(yr)) + 0.5;
      const len = (yr - xMin) % majorX === 0 ? 10 : 5;
      ctx.moveTo(px, a.bottom);
      ctx.lineTo(px, a.bottom - len);
      ctx.moveTo(px, a.top);
      ctx.lineTo(px, a.top + len);
    }
    const yMax = Math.max(...yTickValues);
    const yMin = Math.min(...yTickValues);
    for (let v = yMin; v <= yMax; v += yMinorStep) {
      const py = Math.round(ys.getPixelForValue(v)) + 0.5;
      const len = v % 5 === 0 ? 16 : 8;
      ctx.moveTo(a.left, py);
      ctx.lineTo(a.left + len, py);
      ctx.moveTo(a.right, py);
      ctx.lineTo(a.right - len, py);
    }
    ctx.stroke();
    ctx.restore();
  },
  afterDraw(chart: any) {
    const { ctx, chartArea: a, scales } = chart;
    const ys = scales.y;
    ctx.save();
    // title
    ctx.letterSpacing = '3.5px';
    ctx.font = `${FONT_WEIGHT} 30px ${FONT_FAMILY}`;
    ctx.fillStyle = '#000';
    ctx.textAlign = 'center';
    ctx.textBaseline = 'middle';
    ctx.fillText(chartTitle, (a.left + a.right) / 2 + 2, 18);
    // y tick labels
    ctx.letterSpacing = '1px';
    const yMax = Math.max(...yTickValues);
    const yMin = Math.min(...yTickValues);
    ctx.font = `${FONT_WEIGHT} 25px ${FONT_FAMILY}`;
    ctx.textAlign = 'right';
    yTickValues.forEach((v) => {
      let py = ys.getPixelForValue(v) + 3;
      if (v === yMax) py = a.top + 10;
      if (v === yMin) py = a.bottom - 8;
      ctx.fillText(fmtY(v), a.left - 10, py);
    });
    // legend
    ctx.font = `${FONT_WEIGHT} 21px ${FONT_FAMILY}`;
    ctx.textAlign = 'left';
    const x0 = a.left + 43;
    const x1 = a.left + 148;
    legendItems.forEach((it, i) => {
      const yy = Math.round(a.top + 47.5 + i * 27.5) + 0.5;
      ctx.strokeStyle = it.color;
      ctx.lineWidth = 1;
      ctx.beginPath();
      ctx.moveTo(x0, yy);
      ctx.lineTo(x1, yy);
      [x0, x1].forEach((cx) => {
        ctx.moveTo(cx - 6.5, yy);
        ctx.lineTo(cx + 6.5, yy);
        ctx.moveTo(cx + 0.5, yy - 7);
        ctx.lineTo(cx + 0.5, yy + 7);
      });
      ctx.stroke();
      ctx.fillStyle = '#000';
      ctx.fillText(it.label, a.left + 164, yy + 1);
    });
    obsLabels.forEach((it, i) => {
      ctx.fillStyle = it.color;
      ctx.fillText(it.label, a.left + 550, a.top + 41 + i * 24.5);
    });
    ctx.restore();
  },
};

export default function App() {
  const canvasRef = useRef<HTMLCanvasElement | null>(null);

  useEffect(() => {
    const canvas = canvasRef.current;
    if (!canvas) return;

    const greyHist = histRuns.map((run) => ({
      data: seriesPoints(histRunStartYear, runStepYears, run, histRunEndYear),
      borderColor: GREY,
      borderWidth: 2.4,
      pointRadius: 0,
      clip: 0,
      order: 10,
    }));
    const greyFuture = futureRuns.map((run) => ({
      data: seriesPoints(futureRunStartYear, runStepYears, run),
      borderColor: GREY,
      borderWidth: 2.4,
      pointRadius: 0,
      clip: 0,
      order: 10,
    }));
    const yMax = Math.max(...yTickValues);
    const yMin = Math.min(...yTickValues);

    const datasets: any[] = [
      ...greyHist,
      ...greyFuture,
      { data: seriesPoints(historicalStartYear, 1, historicalMean), borderColor: '#000000', borderWidth: 3, pointRadius: 0, order: 5 },
      { data: seriesPoints(cruStartYear, 1, cruObs), borderColor: '#ff0000', borderWidth: 3, pointRadius: 0, order: 4 },
      { data: seriesPoints(ghcnStartYear, 1, ghcnObs), borderColor: '#00f050', borderWidth: 3, pointRadius: 0, order: 3 },
      { data: seriesPoints(rcpStartYear, 1, rcp85Mean), borderColor: '#c00000', borderWidth: 3, pointRadius: 0, order: 2 },
      { data: seriesPoints(rcpStartYear, 1, rcp45Mean), borderColor: '#0000ff', borderWidth: 3, pointRadius: 0, order: 1 },
      {
        data: [{ x: splitYear, y: yMin }, { x: splitYear, y: yMax }],
        borderColor: '#000000', borderWidth: 3, borderDash: [14, 9], pointRadius: 0, order: 0,
      },
    ];

    const chart = new Chart(canvas, {
      type: 'line',
      data: { datasets },
      options: {
        responsive: false,
        animation: false,
        devicePixelRatio: 1,
        events: [],
        layout: { padding: { top: 44.5, right: 53, bottom: 0, left: 0 } },
        elements: { line: { tension: 0 }, point: { radius: 0 } },
        plugins: {
          legend: { display: false },
          tooltip: { enabled: false },
          title: { display: false },
        },
        scales: {
          x: {
            type: 'linear',
            min: xTickValues[0],
            max: xTickValues[xTickValues.length - 1],
            grid: { display: false, drawTicks: false },
            border: { display: false },
            ticks: {
              stepSize: xTickValues[1] - xTickValues[0],
              color: '#000',
              font: { family: FONT_FAMILY, size: 25, weight: FONT_WEIGHT },
              padding: 16,
              maxRotation: 0,
              autoSkip: false,
              callback: (v: any) => String(v),
            },
            title: {
              display: true,
              text: xAxisTitle,
              color: '#000',
              font: { family: FONT_FAMILY, size: 25, weight: FONT_WEIGHT },
              padding: { top: 0, bottom: 12 },
            },
            afterFit: (s: any) => { s.height = 94; },
          },
          y: {
            type: 'linear',
            min: yMin,
            max: yMax,
            grid: { display: false, drawTicks: false },
            border: { display: false },
            ticks: { display: false },
            afterFit: (s: any) => { s.width = 83; },
          },
        },
      } as any,
      plugins: [idlPlugin as any],
    });

    return () => chart.destroy();
  }, []);

  return (
    <div style={{ position: 'absolute', left: 0, top: 0, width: 944, height: 620, background: '#fff' }}>
      <canvas ref={canvasRef} width={944} height={620} style={{ display: 'block', width: 944, height: 620 }} />
    </div>
  );
}
